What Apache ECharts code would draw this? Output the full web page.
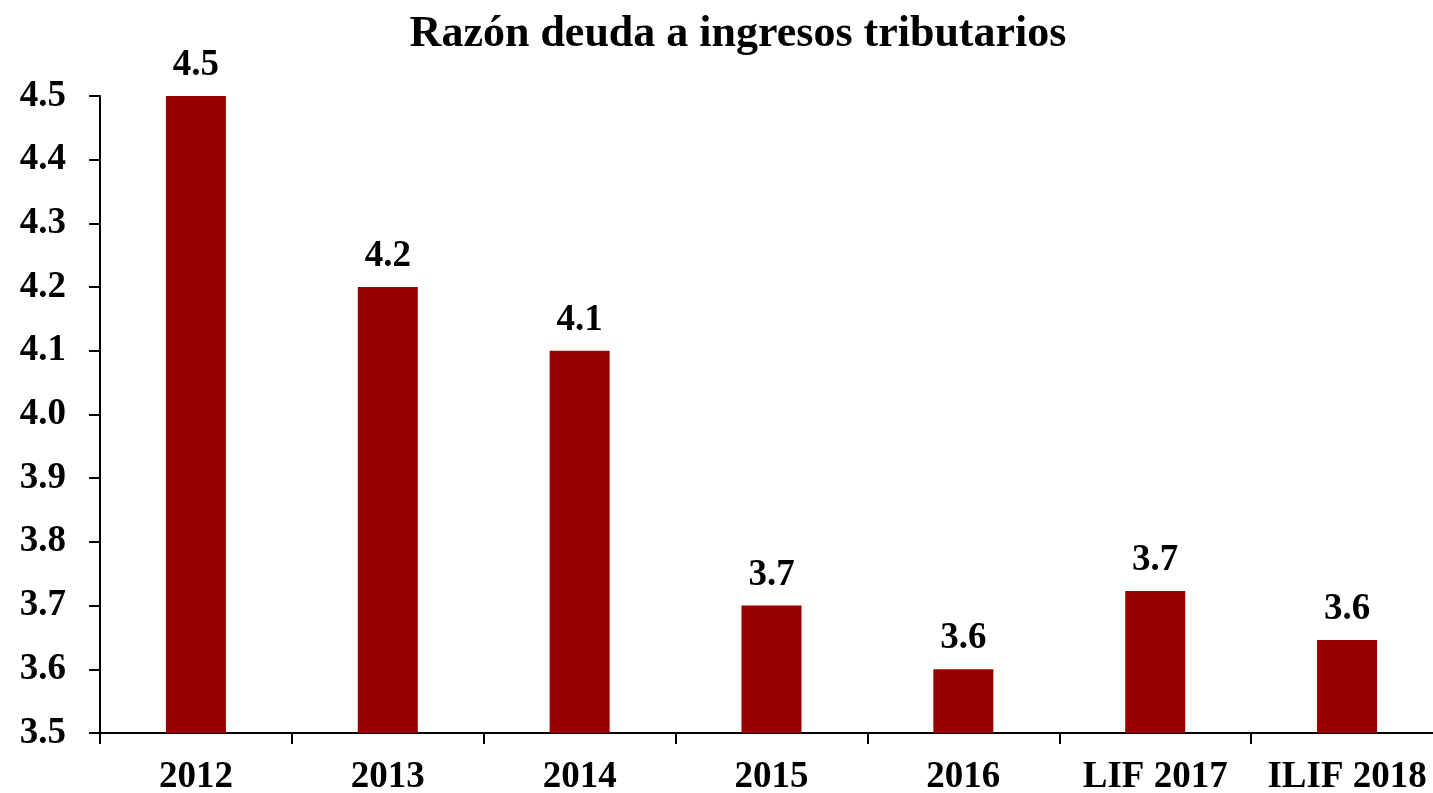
<!DOCTYPE html>
<html><head><meta charset="utf-8">
<script src="https://cdn.jsdelivr.net/npm/echarts@6/dist/echarts.min.js"></script>
<style>html,body{margin:0;padding:0;background:#fff;overflow:hidden}#c{width:1433px;height:793px}</style>
</head><body><div id="c"></div>
<script>
const categories = ['2012','2013','2014','2015','2016','LIF 2017','ILIF 2018'];
const values = [4.5, 4.2, 4.1, 3.7, 3.6, 3.723, 3.646];
const yTicks = { min: 3.5, max: 4.5, interval: 0.1 };
const titleText = 'Razón deuda a ingresos tributarios';

const FONT = '"Liberation Serif", "DejaVu Serif", serif';
const chart = echarts.init(document.getElementById('c'), null, {renderer:'canvas'});
chart.setOption({
  animation: false,
  backgroundColor: '#fff',
  title: { text: titleText, left: 733, textAlign: 'center', top: 8,
    textStyle: { fontFamily: FONT, fontWeight: 'bold', fontSize: 44, color: '#000' } },
  grid: { left: 100, right: -10, top: 96, bottom: 60, outerBoundsMode: 'none', containLabel: false },
  xAxis: { type: 'category', data: categories,
    axisLine: { lineStyle: { color: '#000', width: 2 } },
    axisTick: { show: true, length: 11, inside: false, interval: 0, lineStyle: { color: '#000', width: 2 } },
    axisLabel: { interval: 0, fontFamily: FONT, fontWeight: 'bold', fontSize: 37, color: '#000', margin: 26 } },
  yAxis: { type: 'value', min: yTicks.min, max: yTicks.max, interval: yTicks.interval,
    splitLine: { show: false },
    axisLine: { show: true, lineStyle: { color: '#000', width: 2 } },
    axisTick: { show: true, length: 11, lineStyle: { color: '#000', width: 2 } },
    axisLabel: { fontFamily: FONT, fontWeight: 'bold', fontSize: 37, color: '#000', margin: 34,
      formatter: v => v.toFixed(1) } },
  series: [{ type: 'bar', data: values, barWidth: 60,
    itemStyle: { color: '#990000' },
    label: { show: true, position: 'top', distance: 12, fontFamily: FONT, fontWeight: 'bold',
      fontSize: 37, color: '#000', formatter: p => p.value.toFixed(1) } }]
});
</script></body></html>
